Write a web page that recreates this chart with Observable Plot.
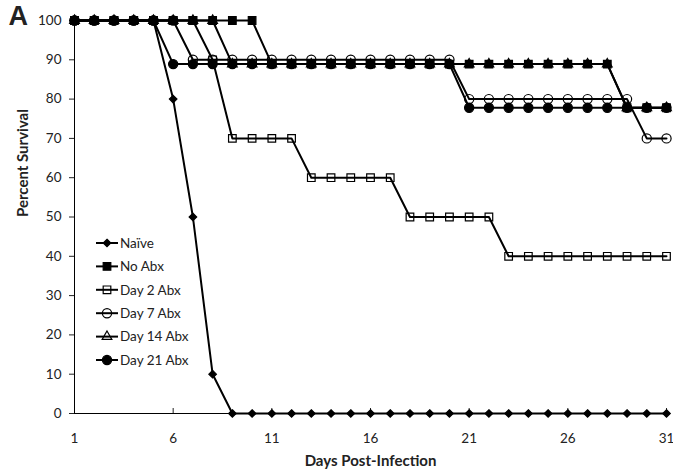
<!DOCTYPE html>
<html><head><meta charset="utf-8">
<script src="https://cdn.jsdelivr.net/npm/d3@7"></script>
<script src="https://cdn.jsdelivr.net/npm/@observablehq/plot@0.6"></script>
<style>body{margin:0;background:#fff} #chart{width:673px;height:474px}</style>
</head><body><div id="chart"></div><script>
const days = [1,2,3,4,5,6,7,8,9,10,11,12,13,14,15,16,17,18,19,20,21,22,23,24,25,26,27,28,29,30,31];
const xTicks = [1,6,11,16,21,26,31];
const yTicks = [0,10,20,30,40,50,60,70,80,90,100];

const naive  = [100,100,100,100,100,80,50,10,0,0,0,0,0,0,0,0,0,0,0,0,0,0,0,0,0,0,0,0,0,0,0];
const noAbx  = [100,100,100,100,100,100,100,100,100,100,88.9,88.9,88.9,88.9,88.9,88.9,88.9,88.9,88.9,88.9,88.9,88.9,88.9,88.9,88.9,88.9,88.9,88.9,77.8,77.8,77.8];
const day2   = [100,100,100,100,100,100,100,90,70,70,70,70,60,60,60,60,60,50,50,50,50,50,40,40,40,40,40,40,40,40,40];
const day7   = [100,100,100,100,100,100,90,90,90,90,90,90,90,90,90,90,90,90,90,90,80,80,80,80,80,80,80,80,80,70,70];
const day14  = [100,100,100,100,100,100,100,100,88.9,88.9,88.9,88.9,88.9,88.9,88.9,88.9,88.9,88.9,88.9,88.9,88.9,88.9,88.9,88.9,88.9,88.9,88.9,88.9,77.8,77.8,77.8];
const day21  = [100,100,100,100,100,88.9,88.9,88.9,88.9,88.9,88.9,88.9,88.9,88.9,88.9,88.9,88.9,88.9,88.9,88.9,77.8,77.8,77.8,77.8,77.8,77.8,77.8,77.8,77.8,77.8,77.8];

const seriesNames = ["Naïve","No Abx","Day 2 Abx","Day 7 Abx","Day 14 Abx","Day 21 Abx"];
const seriesValues = [naive,noAbx,day2,day7,day14,day21];
const symbols = ["diamond2","square","square","circle","triangle","circle"];
const fills = ["black","black","none","none","none","black"];
const radii = [3.4,4.3,4.3,4.6,3.6,4.6];

const rows = seriesNames.map((name,si) => days.map((d,i) => ({series:name, day:d, value:seriesValues[si][i]})));

const plot = Plot.plot({
  width:673, height:474,
  marginLeft:74, marginRight:7, marginTop:20, marginBottom:61,
  x:{domain:[1,31]},
  y:{domain:[0,100]},
  style:{fontFamily:"Lato, 'Open Sans', sans-serif", fontSize:"13px", color:"#222", background:"white"},
  marks:[
    Plot.axisY({ticks:yTicks, tickSize:5, tickPadding:8, label:null, fontSize:13.5}),
    Plot.axisX({ticks:xTicks, tickSize:-5, tickPadding:25, label:null, fontSize:13.5}),
    Plot.ruleX([1], {stroke:"black", strokeWidth:1}),
    Plot.ruleY([0], {stroke:"black", strokeWidth:1}),
    ...rows.map(r => Plot.line(r, {x:"day", y:"value", stroke:"black", strokeWidth:2})),
    ...rows.map((r,si) => Plot.dot(r, {x:"day", y:"value", symbol:symbols[si], r:radii[si], fill:fills[si], stroke:"black", strokeWidth:1.2})),
    Plot.text(["Percent Survival"], {frameAnchor:"left", rotate:-90, dx:-51, fontWeight:"bold", fontSize:15}),
    Plot.text(["Days Post-Infection"], {frameAnchor:"bottom", dy:52, fontWeight:"bold", fontSize:15}),
    Plot.text(["A"], {frameAnchor:"top-left", dx:-66, dy:-15, textAnchor:"start", lineAnchor:"top", fontWeight:"bold", fontSize:27, fontFamily:"'Liberation Sans', Arial, sans-serif"})
  ]
});
document.getElementById("chart").appendChild(plot);

// legend
const svg = d3.select(plot);
const symMap = {diamond2:d3.symbolDiamond2, square:d3.symbolSquare, circle:d3.symbolCircle, triangle:d3.symbolTriangle};
const lg = svg.append("g").attr("font-family","Lato, 'Open Sans', sans-serif").attr("font-size",13.5).attr("fill","#222").attr("text-anchor","start");
seriesNames.forEach((name,i) => {
  const y = 243 + i*23.4;
  const g = lg.append("g").attr("transform",`translate(0,${y})`);
  g.append("line").attr("x1",96).attr("x2",118).attr("stroke","black").attr("stroke-width",2);
  g.append("path").attr("transform","translate(107,0)")
    .attr("d", d3.symbol(symMap[symbols[i]], Math.PI*radii[i]*radii[i])())
    .attr("fill", fills[i]).attr("stroke","black").attr("stroke-width",1.2);
  g.append("text").attr("x",120).attr("dy","0.35em").attr("text-anchor","start").text(name);
});
</script></body></html>
